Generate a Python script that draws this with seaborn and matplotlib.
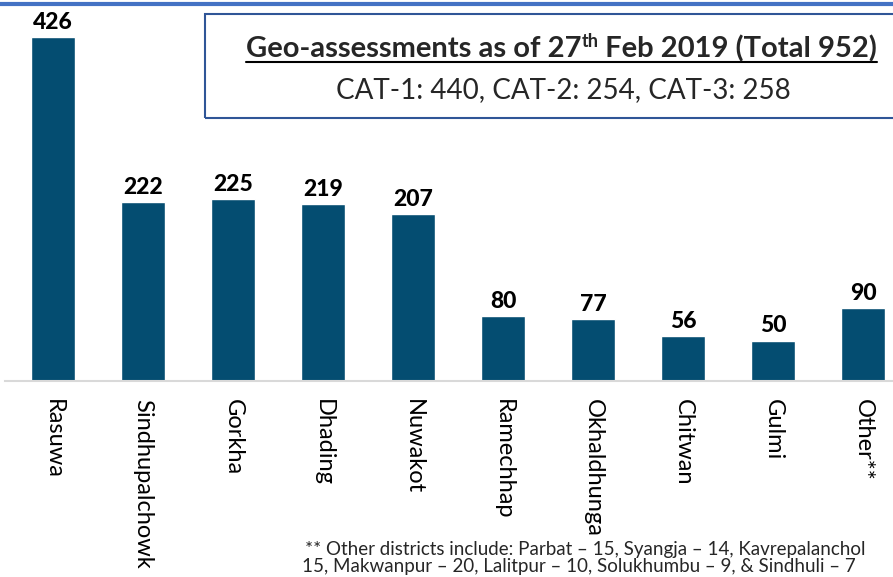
import matplotlib
matplotlib.use("Agg")
import matplotlib.pyplot as plt
import seaborn as sns
from matplotlib.lines import Line2D
from matplotlib.patches import Rectangle

districts = ["Rasuwa", "Sindhupalchowk", "Gorkha", "Dhading", "Nuwakot",
             "Ramechhap", "Okhaldhunga", "Chitwan", "Gulmi", "Other**"]
assessments = [426, 222, 225, 219, 207, 80, 77, 56, 50, 90]
title_main = "Geo-assessments as of 27"
title_sup = "th"
title_rest = " Feb 2019 (Total 952)"
subtitle = "CAT-1: 440, CAT-2: 254, CAT-3: 258"
footnote_1 = "** Other districts include: Parbat \u2013 15, Syangja \u2013 14, Kavrepalanchol"
footnote_2 = "15, Makwanpur \u2013 20, Lalitpur \u2013 10, Solukhumbu \u2013 9, & Sindhuli \u2013 7"

sns.set_theme(style="white")
plt.rcParams["font.family"] = ["Lato", "DejaVu Sans"]

W, H = 893, 577
fig = plt.figure(figsize=(W / 100, H / 100), dpi=100)
ax = fig.add_axes([0, 1 - 381 / H, 1, 381 / H])

sns.barplot(x=districts, y=assessments, color="#044d71", saturation=1,
            width=0.49, ax=ax)
ax.set_xlim(-0.589, 9.333)
ax.set_ylim(0, 471.8)
for c in ax.containers:
    ax.bar_label(c, labels=[str(v) for v in assessments], padding=3,
                 fontsize=16.5, fontweight=900, color="black")

for s in ["top", "left", "right"]:
    ax.spines[s].set_visible(False)
ax.spines["bottom"].set_color("#d9d9d9")
ax.spines["bottom"].set_linewidth(1.5)
ax.spines["bottom"].set_bounds(-0.53, 9.34)
ax.set_yticks([])
ax.set_xlabel("")
ax.set_ylabel("")
ax.tick_params(axis="x", length=0, pad=13, labelsize=17, labelcolor="black")
for lbl in ax.get_xticklabels():
    lbl.set_rotation(270)
    lbl.set_va("top")
    lbl.set_ha("center")

# top blue line
fig.add_artist(Line2D([0, 1], [1 - 4 / H, 1 - 4 / H], color="#4472c4", lw=3,
                      transform=fig.transFigure))

# title box
box = Rectangle((205 / W, 1 - 118 / H), 700 / W, 104 / H, transform=fig.transFigure,
                fill=False, edgecolor="#2f5597", lw=1.5)
fig.add_artist(box)

fig.canvas.draw()
r = fig.canvas.get_renderer()
fs_t = 21
y_base = 1 - 57 / H
t1 = fig.text(246 / W, y_base, title_main, fontsize=fs_t, fontweight="bold",
              va="baseline", ha="left")
bb = t1.get_window_extent(r)
t2 = fig.text(bb.x1 / W, y_base + 10 / H, title_sup, fontsize=fs_t * 0.62,
              fontweight="bold", va="baseline", ha="left")
bb2 = t2.get_window_extent(r)
t3 = fig.text(bb2.x1 / W, y_base, title_rest, fontsize=fs_t, fontweight="bold",
              va="baseline", ha="left")
bb3 = t3.get_window_extent(r)
fig.add_artist(Line2D([246 / W, bb3.x1 / W], [1 - 62 / H, 1 - 62 / H],
                      color="black", lw=1.5, transform=fig.transFigure))

fig.text(563 / W, 1 - 98 / H, subtitle, fontsize=20, va="baseline", ha="center")

fig.text(305 / W, 1 - 555 / H, footnote_1, fontsize=13.5, va="baseline", ha="left")
fig.text(302 / W, 1 - 572 / H, footnote_2, fontsize=13.5, va="baseline", ha="left")

fig.savefig("out.png", dpi=100)
